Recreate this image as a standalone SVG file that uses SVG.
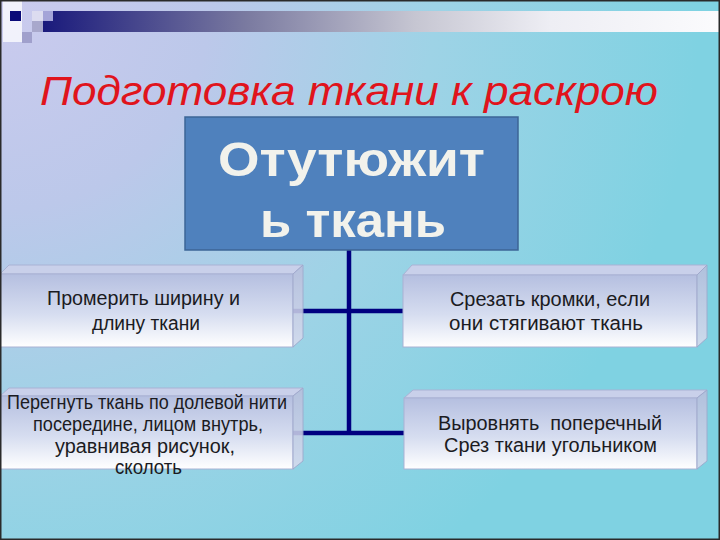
<svg xmlns="http://www.w3.org/2000/svg" width="720" height="540" viewBox="0 0 720 540">
  <defs>
    <radialGradient id="bg" cx="0" cy="0" r="700" gradientUnits="userSpaceOnUse">
      <stop offset="0" stop-color="#cbcbee"/>
      <stop offset="0.3" stop-color="#bcc8ea"/>
      <stop offset="0.62" stop-color="#9ed3e6"/>
      <stop offset="1" stop-color="#7fd2e2"/>
    </radialGradient>
    <linearGradient id="bar" x1="43" y1="0" x2="720" y2="0" gradientUnits="userSpaceOnUse">
      <stop offset="0" stop-color="#1a1a7c"/>
      <stop offset="0.3" stop-color="#7a7aa0"/>
      <stop offset="0.55" stop-color="#c6c6d2"/>
      <stop offset="0.75" stop-color="#eeeef4"/>
      <stop offset="1" stop-color="#fbfbfd"/>
    </linearGradient>
    <linearGradient id="front" x1="0" y1="0" x2="0" y2="1">
      <stop offset="0" stop-color="#b5bfe0"/>
      <stop offset="0.55" stop-color="#d6ddf0"/>
      <stop offset="1" stop-color="#ffffff"/>
    </linearGradient>
    <linearGradient id="side" x1="0" y1="0" x2="0" y2="1">
      <stop offset="0" stop-color="#b8bedc"/>
      <stop offset="1" stop-color="#d8dcee"/>
    </linearGradient>
    <style>
      .front { fill: url(#front); stroke: #a9b2d4; stroke-width: 1; }
      .top { fill: #c9d0ea; stroke: #a9b2d4; stroke-width: 1; }
      .side { fill: url(#side); stroke: #a0a8cc; stroke-width: 1; opacity: 0.88; }
      .lbl { font-family: "Liberation Sans", Arial, sans-serif; font-size: 19.5px; fill: #1b1b22; text-anchor: middle; white-space: pre; }
      .conn { stroke: #000080; stroke-width: 4.5; fill: none; }
      .main { font-family: "Liberation Sans", Arial, sans-serif; font-size: 48px; font-weight: bold; fill: #f2f2ec; text-anchor: middle; }
    </style>
  </defs>

  <!-- background -->
  <rect x="0" y="0" width="720" height="540" fill="url(#bg)"/>

  <!-- top decoration -->
  <g id="decor">
    <rect x="3" y="0" width="19" height="42" fill="#ffffff" opacity="0.75"/>
    <rect x="43" y="11" width="677" height="21" fill="url(#bar)"/>
    <rect x="10" y="11" width="11" height="10" fill="#0a0a78"/>
    <rect x="32" y="11" width="11" height="10" fill="#dcdcf0"/>
    <rect x="43" y="11" width="10" height="10" fill="#a4a4d8"/>
    <rect x="32" y="21" width="11" height="11" fill="#a8a8cc"/>
    <rect x="22" y="32" width="10" height="11" fill="#a0a0cc"/>
  </g>

  <!-- title -->
  <text id="title" x="40" y="105" font-family="'Liberation Sans', Arial, sans-serif" font-size="41" font-style="italic" fill="#e0141c" textLength="618" lengthAdjust="spacingAndGlyphs">Подготовка ткани к раскрою</text>

  <!-- connectors -->
  <g id="connectors">
    <line class="conn" x1="349" y1="250" x2="349" y2="435"/>
    <line class="conn" x1="293" y1="311" x2="403" y2="311"/>
    <line class="conn" x1="293" y1="433" x2="404" y2="433"/>
  </g>

  <!-- main node -->
  <g id="node-main">
    <rect x="185" y="117" width="333" height="133" fill="#4f81bd" stroke="#3c6596" stroke-width="1.5"/>
    <text class="main" x="351.5" y="176" textLength="267" lengthAdjust="spacingAndGlyphs">Отутюжит</text>
    <text class="main" x="353" y="237" textLength="186" lengthAdjust="spacingAndGlyphs">ь ткань</text>
  </g>

  <!-- left top -->
  <g id="node-measure">
    <polygon class="top" points="0,274 9,265 303,265 293,274"/>
    <rect class="front" x="0" y="274" width="293" height="73"/>
    <polygon class="side" points="293,274 303,265 303,338 293,347"/>
    <text class="lbl" x="143.5" y="305" textLength="193" lengthAdjust="spacingAndGlyphs">Промерить ширину и</text>
    <text class="lbl" x="146" y="330" textLength="108" lengthAdjust="spacingAndGlyphs">длину ткани</text>
  </g>

  <!-- left bottom -->
  <g id="node-fold">
    <polygon class="top" points="0,396 9,388 303,388 293,396"/>
    <rect class="front" x="0" y="396" width="293" height="73"/>
    <polygon class="side" points="293,396 303,388 303,461 293,469"/>
    <text class="lbl" x="147" y="409" textLength="280" lengthAdjust="spacingAndGlyphs">Перегнуть ткань по долевой нити</text>
    <text class="lbl" x="148" y="431" textLength="230" lengthAdjust="spacingAndGlyphs">посередине, лицом внутрь,</text>
    <text class="lbl" x="145" y="453" textLength="180" lengthAdjust="spacingAndGlyphs">уравнивая рисунок,</text>
    <text class="lbl" x="148.5" y="474" textLength="67" lengthAdjust="spacingAndGlyphs">сколоть</text>
  </g>

  <!-- right top -->
  <g id="node-edges">
    <polygon class="top" points="403,275 412,265 707,265 697,275"/>
    <rect class="front" x="403" y="275" width="294" height="72"/>
    <polygon class="side" points="697,275 707,265 707,338 697,347"/>
    <text class="lbl" x="550" y="306" textLength="200" lengthAdjust="spacingAndGlyphs">Срезать кромки, если</text>
    <text class="lbl" x="546" y="330" textLength="194" lengthAdjust="spacingAndGlyphs">они стягивают ткань</text>
  </g>

  <!-- right bottom -->
  <g id="node-align">
    <polygon class="top" points="404,398 413,390 707,390 697,398"/>
    <rect class="front" x="404" y="398" width="293" height="71"/>
    <polygon class="side" points="697,398 707,390 707,461 697,469"/>
    <text class="lbl" x="550" y="430" textLength="224" lengthAdjust="spacingAndGlyphs">Выровнять  поперечный</text>
    <text class="lbl" x="550.5" y="452" textLength="213" lengthAdjust="spacingAndGlyphs">Срез ткани угольником</text>
  </g>

  <!-- frame -->
  <rect x="0.75" y="0.75" width="718.5" height="538.5" fill="none" stroke="#2a2a2a" stroke-width="1.5"/>
</svg>
